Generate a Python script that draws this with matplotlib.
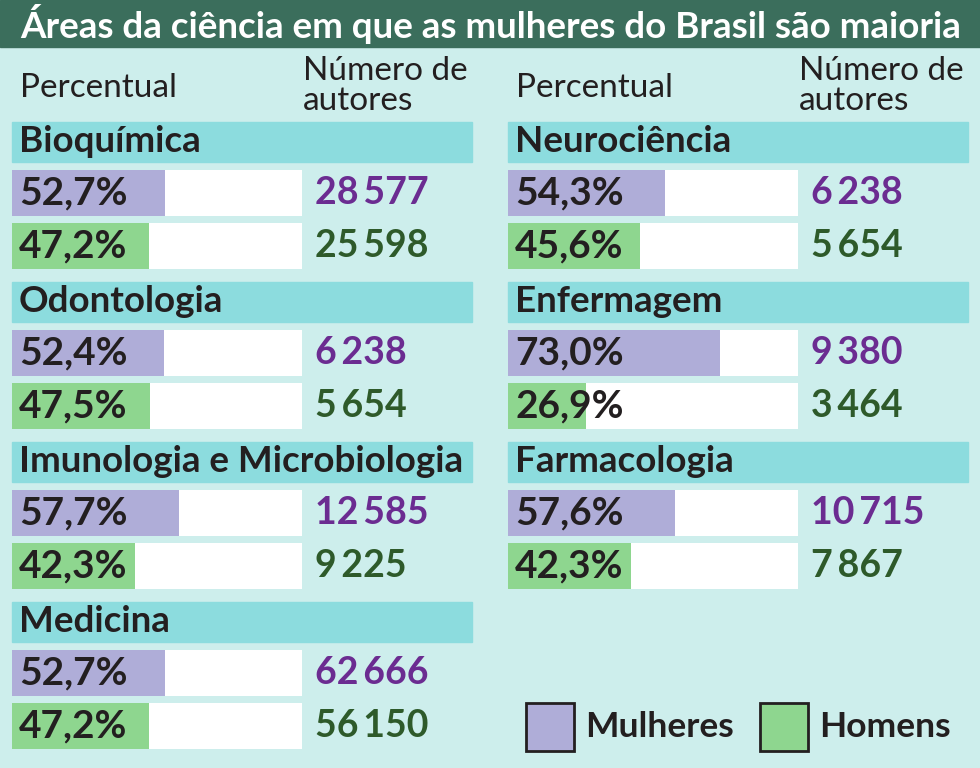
import matplotlib.pyplot as plt
from matplotlib.patches import Rectangle

plt.rcParams['font.family'] = ['Lato', 'DejaVu Sans']

areas = ["Bioquímica", "Odontologia", "Imunologia e Microbiologia", "Medicina",
         "Neurociência", "Enfermagem", "Farmacologia"]
pct_women = [52.7, 52.4, 57.7, 52.7, 54.3, 73.0, 57.6]
pct_men = [47.2, 47.5, 42.3, 47.2, 45.6, 26.9, 42.3]
n_women = [28577, 6238, 12585, 62666, 6238, 9380, 10715]
n_men = [25598, 5654, 9225, 56150, 5654, 3464, 7867]
columns = [0, 0, 0, 0, 1, 1, 1]

title = "Áreas da ciência em que as mulheres do Brasil são maioria"

bg = '#CDEEEC'
band = '#8CDCDE'
purple = '#AFADD8'
green = '#8ED68F'
purple_txt = '#6B2C91'
green_txt = '#2E5A2A'
dark = '#231F20'

fig = plt.figure(figsize=(9.8, 7.68), dpi=100)
fig.patch.set_facecolor(bg)
ax = fig.add_axes([0, 0, 1, 1])
ax.set_xlim(0, 980)
ax.set_ylim(768, 0)
ax.axis('off')

# title band
ax.add_patch(Rectangle((0, 0), 980, 47, color='#3B6E5C'))
ax.text(491, 24, title, color='white', fontsize=26.5, fontweight='bold',
        ha='center', va='center')

col_x = [12, 508]
scale = 2.9  # px per percent (box = 100%)

for x0 in col_x:
    ax.text(x0 + 8, 88, "Percentual", fontsize=24, color=dark, va='center')
    ax.text(x0 + 291, 86, "Número de\nautores", fontsize=24, color=dark,
            va='center', linespacing=0.98)


def fmt(n):
    return f"{n:,}".replace(",", "\u2009")


row_count = [0, 0]
for i, name in enumerate(areas):
    c = columns[i]
    r = row_count[c]
    row_count[c] += 1
    x0 = col_x[c]
    top = 122 + 160 * r
    ax.add_patch(Rectangle((x0, top), 460, 40, color=band))
    ax.text(x0 + 7, top + 20, name, fontsize=26.5, fontweight='bold',
            color=dark, va='center')

    ys = [top + 71, top + 124]
    for y, p, n, col, tcol in [(ys[0], pct_women[i], n_women[i], purple, purple_txt),
                               (ys[1], pct_men[i], n_men[i], green, green_txt)]:
        ax.barh(y, 100 * scale, height=46, left=x0, color='white')
        ax.barh(y, p * scale, height=46, left=x0, color=col)
        ax.text(x0 + 7, y, f"{p:.1f}%".replace(".", ","), fontsize=28,
                fontweight='bold', color=dark, va='center')
        ax.text(x0 + 303, y, fmt(n), fontsize=27, fontweight='bold',
                color=tcol, va='center')

# legend
for lx, col, lab in [(526, purple, "Mulheres"), (760, green, "Homens")]:
    ax.add_patch(Rectangle((lx, 703), 48, 48, facecolor=col,
                           edgecolor=dark, lw=2))
    ax.text(lx + 59, 727, lab, fontsize=25.5, fontweight='bold', color=dark,
            va='center')

fig.savefig('out.png', dpi=100, facecolor=bg)
